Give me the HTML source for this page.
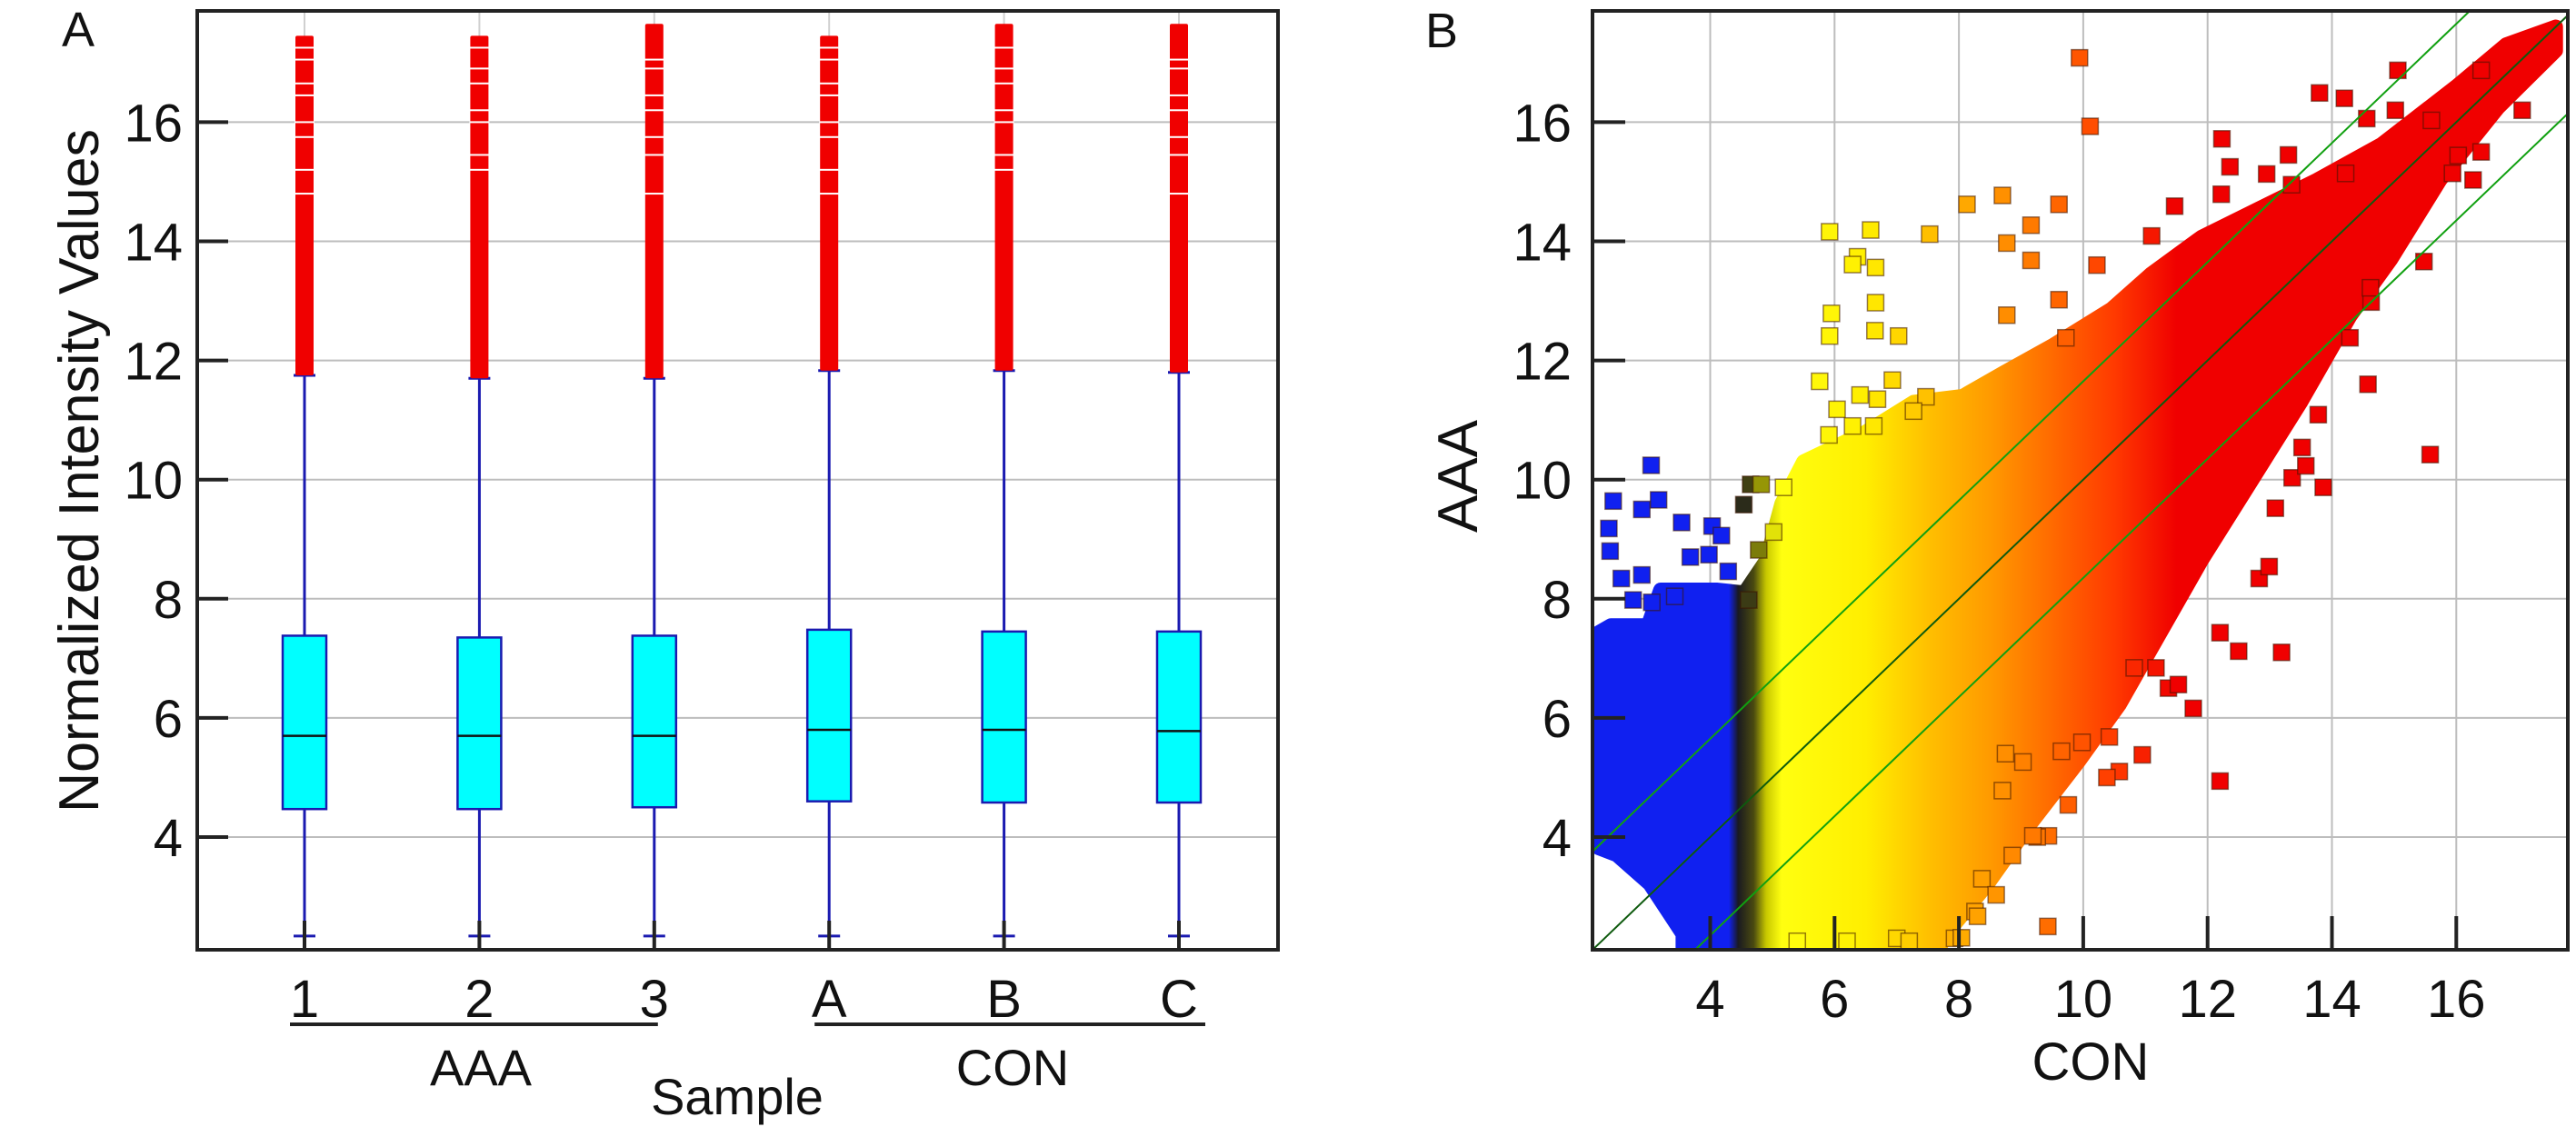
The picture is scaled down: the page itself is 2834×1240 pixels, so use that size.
<!DOCTYPE html>
<html><head><meta charset="utf-8"><style>
html,body{margin:0;padding:0;background:#fff;}
svg{display:block;font-family:"Liberation Sans",sans-serif;}
</style></head><body>
<svg id="fig" width="2834" height="1240" viewBox="0 0 2834 1240" xmlns="http://www.w3.org/2000/svg">
<defs>
<clipPath id="clipB"><rect x="1752" y="12" width="1073" height="1033"/></clipPath>
</defs>
<g id="panelA"></g>
<g id="panelB"></g>
</svg>
<script>
// ---------- Panel A data ----------
const categories = ["1","2","3","A","B","C"];
const q1 = [4.47,4.47,4.5,4.6,4.58,4.58];
const medians = [5.7,5.7,5.7,5.8,5.8,5.78];
const q3 = [7.38,7.35,7.38,7.48,7.45,7.45];
const whiskerLow = [2.34,2.34,2.34,2.34,2.34,2.34];
const whiskerHigh = [11.75,11.7,11.7,11.83,11.83,11.8];
const outlierMax = [17.45,17.45,17.65,17.45,17.65,17.65];
const outlierGaps = [17.25,17.05,16.9,16.65,16.45,16.2,16.0,15.75,15.45,15.2,14.8];
const yTicks = [4,6,8,10,12,14,16];
const groupNames = ["AAA","CON"];
// ---------- Panel B data ----------
const xTicksB = [4,6,8,10,12,14,16];
const massX = [2.2,2.4,3.0,3.2,4.1,4.55,4.9,5.15,5.5,6.5,7.27,8.06,8.73,9.52,10.45,11.1,11.9,12.83,13.76,14.8,16.0,16.8,17.6,17.6,16.67,15.74,14.95,14.29,13.5,12.7,11.9,11.24,10.58,9.92,9.12,8.46,7.8,7.67,3.56,3.56,3.03,2.5,2.2];
const massY = [7.43,7.55,7.55,8.15,8.15,8.1,8.64,9.6,10.3,10.8,11.3,11.4,11.8,12.26,12.86,13.46,14.07,14.55,15.03,15.63,16.6,17.3,17.6,17.2,16.24,15.03,13.7,12.74,11.3,9.97,8.64,7.43,6.22,5.26,4.18,3.21,2.37,2.1,2.1,2.37,3.21,3.7,3.82];
const ptX = [9.94,10.11,12.2,15.58,13.19,12.5,12.2,11.77,9.76,9.44,9.26,8.86,9.43,8.26,7.93,7.0,5.92,6.58,7.53,6.37,6.29,6.66,5.95,5.92,6.66,6.65,7.03,5.76,6.93,6.04,6.41,6.69,7.47,7.27,6.29,6.63,5.91,8.13,8.7,9.61,9.16,8.77,9.16,8.77,9.61,9.72,10.22,11.1,11.47,12.23,12.22,12.36,12.95,13.3,13.35,13.8,14.2,14.22,14.56,15.06,15.02,15.6,16.4,17.06,16.4,16.27,15.94,16.03,3.05,2.44,3.17,2.9,2.37,3.54,4.03,4.18,2.39,3.68,3.98,4.29,2.9,2.57,2.76,3.06,3.43,4.54,4.65,4.82,5.18,5.02,4.78,4.62,10.58,10.95,10.38,9.98,10.42,10.82,11.37,11.53,11.17,12.83,12.99,13.09,13.86,13.36,13.58,13.52,14.58,13.78,14.29,14.63,15.48,14.62,8.37,8.6,8.3,8.04,9.19,8.7,9.03,9.65,8.75,5.4,6.2,7.2];
const ptY = [17.08,15.93,4.94,10.42,7.1,7.12,7.43,6.16,4.54,4.02,4.0,3.69,2.5,2.75,2.3,2.3,14.16,14.19,14.12,13.74,13.61,13.56,12.79,12.41,12.97,12.5,12.41,11.65,11.67,11.18,11.42,11.35,11.39,11.15,10.9,10.9,10.75,14.62,14.77,14.62,14.27,13.97,13.68,12.76,13.02,12.38,13.6,14.09,14.59,15.72,14.79,15.25,15.13,15.45,14.95,16.49,16.4,15.14,16.06,16.87,16.2,16.03,16.87,16.2,15.5,15.03,15.14,15.44,10.24,9.64,9.66,9.5,9.18,9.28,9.22,9.06,8.8,8.7,8.74,8.46,8.4,8.34,7.98,7.94,8.04,9.58,9.92,9.92,9.87,9.12,8.82,7.98,5.1,5.38,5.0,5.59,5.68,6.84,6.5,6.56,6.84,8.34,8.54,9.52,9.87,10.03,10.23,10.54,11.6,11.09,12.38,12.98,13.66,13.22,3.3,3.03,2.67,2.31,4.02,4.78,5.26,5.44,5.4,2.25,2.25,2.25];
const diagOffsets = [-1.65,0,1.65];

const NS="http://www.w3.org/2000/svg";
function mk(parent,tag,attrs,text){const e=document.createElementNS(NS,tag);for(const k in attrs)e.setAttribute(k,attrs[k]);if(text!==undefined)e.textContent=text;parent.appendChild(e);return e;}

// ---------- scales ----------
const yScale = v => 921 - (v-4)*65.55;
const xCat = i => 335 + i*192.4;
const xScaleB = v => 1881.5 + (v-4)*68.4;

// ================= PANEL A =================
const A = document.getElementById('panelA');
const AL=217, AR=1406, AT=12, AB=1045;
yTicks.forEach(t=>{
  const g=mk(A,'line',{x1:AL,x2:AR,y1:yScale(t),y2:yScale(t),stroke:'#bdbdbd','stroke-width':2});
  
  
});
categories.forEach((c,i)=>{
  const g=mk(A,'line',{x1:xCat(i),x2:xCat(i),y1:AT,y2:AB,stroke:'#d0d0d0','stroke-width':2});
  
  
});
categories.forEach((c,i)=>{
  const cx=xCat(i);
  const grp=mk(A,'g',{});
  
  
  mk(grp,'line',{x1:cx,x2:cx,y1:yScale(whiskerLow[i]),y2:yScale(whiskerHigh[i]),stroke:'#1a1ab0','stroke-width':3});
  mk(grp,'line',{x1:cx-12,x2:cx+12,y1:yScale(whiskerLow[i]),y2:yScale(whiskerLow[i]),stroke:'#1a1ab0','stroke-width':3});
  mk(grp,'line',{x1:cx-12,x2:cx+12,y1:yScale(whiskerHigh[i]),y2:yScale(whiskerHigh[i]),stroke:'#1a1ab0','stroke-width':3});
  mk(grp,'rect',{x:cx-24,y:yScale(q3[i]),width:48,height:yScale(q1[i])-yScale(q3[i]),fill:'#00ffff',stroke:'#1a1ab0','stroke-width':2.5});
  mk(grp,'line',{x1:cx-24,x2:cx+24,y1:yScale(medians[i]),y2:yScale(medians[i]),stroke:'#111','stroke-width':2.5});
  const r=mk(grp,'rect',{x:cx-10,y:yScale(outlierMax[i]),width:20,height:yScale(whiskerHigh[i])-yScale(outlierMax[i]),fill:'#f00000',rx:2});
  
  
  outlierGaps.forEach((gv,k)=>{
    if((k+i)%3===2) return;
    mk(grp,'rect',{x:cx-11,y:yScale(gv)-1,width:22,height:2,fill:'#fff'});
  });
  const tk=mk(A,'line',{x1:cx,x2:cx,y1:AB,y2:AB-32,stroke:'#222','stroke-width':4});
  
  
  const lb=mk(A,'text',{x:cx,y:1119,'font-size':58,'text-anchor':'middle',fill:'#111'},c);
  
  
});
yTicks.forEach(t=>{
  const tk=mk(A,'line',{x1:AL,x2:AL+34,y1:yScale(t),y2:yScale(t),stroke:'#222','stroke-width':4});
  
  
  const lb=mk(A,'text',{x:201,y:yScale(t)+21,'font-size':58,'text-anchor':'end',fill:'#111'},String(t));
  
  
});
const frA=mk(A,'rect',{x:AL,y:AT,width:AR-AL,height:AB-AT,fill:'none',stroke:'#222','stroke-width':4});


// group underlines
[[0,2],[3,5]].forEach((rg,gi)=>{
  const l=mk(A,'line',{x1:xCat(rg[0])-16,x2:xCat(rg[1])+4+ (gi?25:0),y1:1127,y2:1127,stroke:'#222','stroke-width':4});
  
  
  const t=mk(A,'text',{x:gi?1114:529,y:1194,'font-size':56,'text-anchor':'middle',fill:'#111'},groupNames[gi]);
  
  
});
const st=mk(A,'text',{x:811,y:1226,'font-size':56,'text-anchor':'middle',fill:'#111'},'Sample');


const yt=mk(A,'text',{x:0,y:0,'font-size':62,'text-anchor':'middle',fill:'#111',transform:'translate(108,518) rotate(-90)',textLength:752,lengthAdjust:'spacingAndGlyphs'},'Normalized Intensity Values');


const pa=mk(A,'text',{x:68,y:51,'font-size':54,fill:'#111'},'A');



// ================= PANEL B =================
const B = document.getElementById('panelB');
const BL=1752, BR=2825;
const grad=mk(document.querySelector('defs'),'linearGradient',{id:'xgrad',gradientUnits:'userSpaceOnUse',x1:xScaleB(2),x2:xScaleB(18),y1:0,y2:0});
const stopsV=[2,4.3,4.45,4.7,4.9,5.15,6.5,7.5,8.5,9.5,10.5,11.5,18];
const stopsC=['#1020f0','#1020f0','#1a1a20','#4a4a10','#c8c800','#ffff10','#ffee00','#ffc000','#ff9a00','#ff6a00','#ff3a00','#f00000','#f00000'];
stopsV.forEach((v,i)=>mk(grad,'stop',{offset:((v-2)/16).toFixed(4),'stop-color':stopsC[i]}));
function colorAt(v){for(let i=1;i<stopsV.length;i++){if(v<=stopsV[i]){const t=(v-stopsV[i-1])/(stopsV[i]-stopsV[i-1]);const a=stopsC[i-1],b=stopsC[i];const p=s=>[1,3,5].map(k=>parseInt(s.substr(k,2),16));const ca=p(a),cb=p(b);return 'rgb('+ca.map((c,k)=>Math.round(c+(cb[k]-c)*t)).join(',')+')';}}return stopsC[stopsC.length-1];}
yTicks.forEach(t=>{
  const g=mk(B,'line',{x1:BL,x2:BR,y1:yScale(t),y2:yScale(t),stroke:'#bdbdbd','stroke-width':2});
  
  
});
xTicksB.forEach(t=>{
  const g=mk(B,'line',{x1:xScaleB(t),x2:xScaleB(t),y1:AT,y2:AB,stroke:'#bdbdbd','stroke-width':2});
  
  
});
const plotG=mk(B,'g',{'clip-path':'url(#clipB)'});
const mass=mk(plotG,'polygon',{points:massX.map((v,i)=>xScaleB(v).toFixed(1)+','+yScale(massY[i]).toFixed(1)).join(' '),fill:'url(#xgrad)',stroke:'url(#xgrad)','stroke-width':16,'stroke-linejoin':'round'});


ptX.forEach((v,i)=>{
  const r=mk(plotG,'rect',{x:xScaleB(v)-9,y:yScale(ptY[i])-9,width:18,height:18,fill:colorAt(v),stroke:'rgba(60,20,0,0.55)','stroke-width':1.5});
  
  
});
diagOffsets.forEach(o=>{
  const l=mk(plotG,'line',{x1:xScaleB(2),y1:yScale(2+o),x2:xScaleB(18),y2:yScale(18+o),stroke:o===0?'#0e5a0e':'#10a010','stroke-width':2});
  
  
});
xTicksB.forEach(t=>{
  const tk=mk(B,'line',{x1:xScaleB(t),x2:xScaleB(t),y1:AB,y2:AB-37,stroke:'#222','stroke-width':4});
  
  
  const lb=mk(B,'text',{x:xScaleB(t),y:1119,'font-size':58,'text-anchor':'middle',fill:'#111'},String(t));
  
  
});
yTicks.forEach(t=>{
  const tk=mk(B,'line',{x1:BL,x2:BL+36,y1:yScale(t),y2:yScale(t),stroke:'#222','stroke-width':4});
  
  
  const lb=mk(B,'text',{x:1729,y:yScale(t)+21,'font-size':58,'text-anchor':'end',fill:'#111'},String(t));
  
  
});
const frB=mk(B,'rect',{x:BL,y:AT,width:BR-BL,height:AB-AT,fill:'none',stroke:'#222','stroke-width':4});


const xb=mk(B,'text',{x:2300,y:1188,'font-size':58,'text-anchor':'middle',fill:'#111'},'CON');


const yb=mk(B,'text',{x:0,y:0,'font-size':62,'text-anchor':'middle',fill:'#111',transform:'translate(1625,524) rotate(-90)'},'AAA');


const pb=mk(B,'text',{x:1568,y:52,'font-size':54,fill:'#111'},'B');


</script>
</body></html>
